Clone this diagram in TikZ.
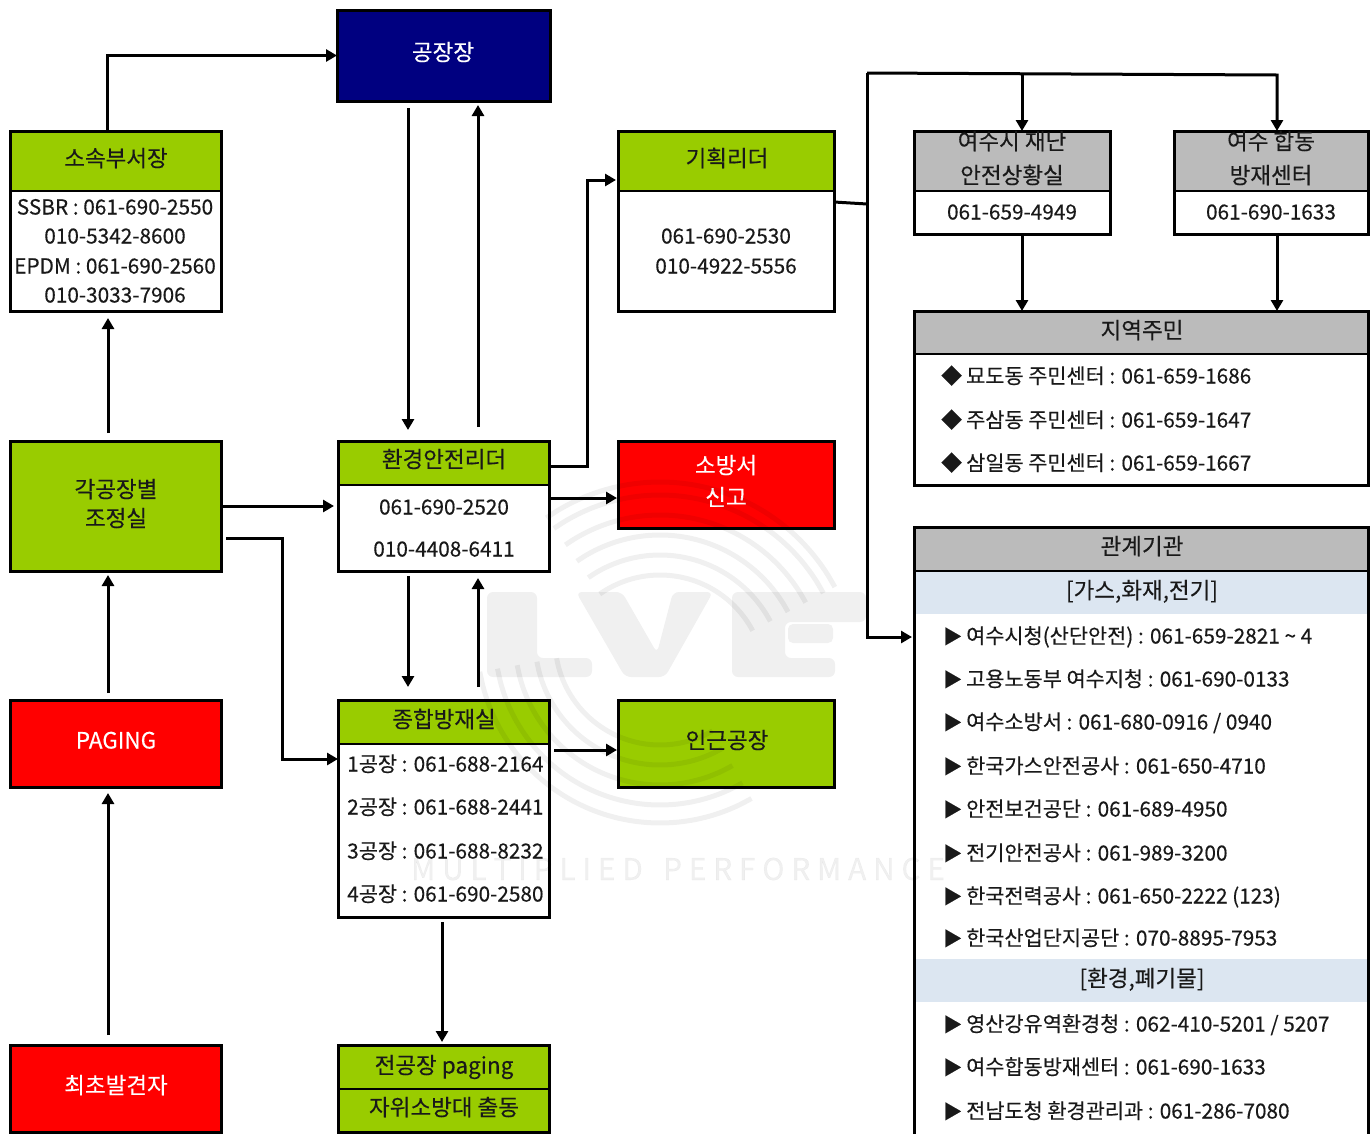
\documentclass[tikz,border=0pt]{standalone}
\usepackage{fontspec}
\setmainfont{Noto Sans CJK KR}[FakeBold=0.25]
\usetikzlibrary{arrows.meta,calc}
\definecolor{grn}{HTML}{99CC00}
\definecolor{gry}{HTML}{BBBBBB}
\definecolor{nvy}{HTML}{000080}
\definecolor{lblue}{HTML}{DCE6F1}
\definecolor{rd}{HTML}{FF0000}
\newcounter{tn}
\newcommand{\K}{\fontsize{22.5}{24}\selectfont}
\tikzset{
  bx/.style={draw=black,line width=3pt,inner sep=0pt,outer sep=0pt,anchor=north west},
  hd/.style={draw=black,line width=1.5pt,inner sep=0pt,outer sep=0pt,anchor=north west},
  band/.style={inner sep=0pt,outer sep=0pt,anchor=north west},
  txt/.style={font=\fontsize{20.8}{23}\selectfont,inner sep=0pt,text height=19pt,text depth=4pt,text=black!90},
  arr/.style={line width=3pt,-{Triangle[length=11pt,width=12pt]}},
  lin/.style={line width=3pt},
  wm/.style={black,opacity=.06},
}
\newcommand{\Bx}[7][bx]{%
  \pgfmathsetmacro{\bw}{#5-#3}\pgfmathsetmacro{\bh}{#6-#4}%
  \node[#1,fill=#7,minimum width=\bw pt,minimum height=\bh pt] (#2) at (#3,#4) {};}
\newcommand{\Tc}[4][black!90]{\stepcounter{tn}\node[txt,text=#1] (t\thetn) at (#2,#3) {#4};}
\newcommand{\Tl}[3]{\stepcounter{tn}\node[txt,anchor=west] (t\thetn) at (#1,#2) {#3};}
\begin{document}
\begin{tikzpicture}[x=1pt,y=-1pt]
\useasboundingbox (0,0) rectangle (1371,1133);
\clip (0,0) rectangle (1371,1133);
\fill[white] (0,0) rectangle (1371,1133);
% boxes
\Bx{gj}{337}{10}{550}{101}{nvy}
\Bx{so}{10}{131}{221}{311}{white}
\Bx[hd]{soh}{10}{131}{221}{191}{grn}
\Bx{gak}{10}{441}{221}{571}{grn}
\Bx{pg}{10}{700}{221}{787}{rd}
\Bx{fst}{10}{1045}{221}{1132}{rd}
\Bx{env}{338}{441}{549}{571}{white}
\Bx[hd]{envh}{338}{441}{549}{485}{grn}
\Bx{zh}{338}{700}{549}{917}{white}
\Bx[hd]{zhh}{338}{700}{549}{744}{grn}
\Bx{all}{338}{1045}{549}{1132}{grn}
\Bx[hd]{allh}{338}{1045}{549}{1089}{grn}
\Bx{plan}{618}{131}{834}{311}{white}
\Bx[hd]{planh}{618}{131}{834}{191}{grn}
\Bx{fire}{618}{441}{834}{528}{rd}
\Bx{near}{618}{700}{834}{787}{grn}
\Bx{ys}{914}{131}{1110}{234}{white}
\Bx[hd]{ysh}{914}{131}{1110}{191}{gry}
\Bx{hdc}{1174}{131}{1368}{234}{white}
\Bx[hd]{hdch}{1174}{131}{1368}{191}{gry}
\Bx{res}{914}{311}{1368}{485}{white}
\Bx[hd]{resh}{914}{311}{1368}{354}{gry}
\Bx{rel}{914}{527}{1368}{1160}{white}
\Bx[band]{relb}{915}{571}{1367}{614}{lblue}
\Bx[band]{relc}{915}{959}{1367}{1002}{lblue}
\Bx[hd]{relh}{914}{527}{1368}{571}{gry}
% redraw outer frames over header bands
\foreach \n in {so,env,zh,all,plan,ys,hdc,res,rel}{\draw[line width=3pt] (\n.north west) rectangle (\n.south east);}
% connectors
\coordinate (eA) at (282,538);
\coordinate (eB) at (587,466);
\coordinate (busMid) at (867,204);
\coordinate (busTop) at (867,73);
\coordinate (busLow) at (867,637);
\coordinate (busBr) at (1022,74);
\coordinate (busCor) at (1277,75);
\draw[arr] ([xshift=-8.5pt]so.north) |- (gj.west);
\draw[arr] ([xshift=-35.5pt,yshift=-7pt]gj.south) -- ([xshift=-35.5pt,yshift=11pt]env.north);
\draw[arr] ([xshift=34.5pt,yshift=14pt]env.north) -- ([xshift=34.5pt,yshift=-4pt]gj.south);
\draw[arr] ([xshift=-7.5pt,yshift=8pt]gak.north) -- ([xshift=-7.5pt,yshift=-7pt]so.south);
\draw[arr] ([xshift=-7.5pt,yshift=7pt]pg.north) -- ([xshift=-7.5pt,yshift=-4pt]gak.south);
\draw[arr] ([xshift=-7.5pt,yshift=10pt]fst.north) -- ([xshift=-7.5pt,yshift=-6pt]pg.south);
\draw[arr] (gak.east) -- ([xshift=-4pt]env.west);
\draw[arr] ([xshift=5pt,yshift=-32pt]gak.east) -- (eA) |- ([yshift=49.5pt]zh.west);
\draw[arr] ([yshift=40pt]env.east) -- (eB) |- ([xshift=-2pt,yshift=41pt]plan.west);
\draw[arr] ([yshift=8pt]env.east) -- ([xshift=-1pt,yshift=-13.5pt]fire.west);
\draw[arr] ([xshift=-35.5pt,yshift=-5pt]env.south) -- ([xshift=-35.5pt,yshift=13pt]zh.north);
\draw[arr] ([xshift=34.5pt,yshift=13pt]zh.north) -- ([xshift=34.5pt,yshift=-7pt]env.south);
\draw[arr] ([xshift=5pt,yshift=58.5pt]zh.east) -- ([xshift=-1pt,yshift=-6.5pt]near.west);
\draw[arr] ([xshift=-1.5pt,yshift=-5pt]zh.south) -- ([xshift=-1.5pt,yshift=3pt]all.north);
\draw[lin] ([yshift=19pt]plan.east) -- (busMid);
\draw[arr] (busTop) -- (busLow) -- ([xshift=-2pt]busLow -| rel.west);
\draw[arr] (busTop) -- (busCor) -- ([xshift=6pt]hdc.north);
\draw[arr] (busBr) -- ([xshift=10pt]ys.north);
\draw[arr] ([xshift=10pt]ys.south) -- ([xshift=10pt]ys.south |- res.north);
\draw[arr] ([xshift=6pt]hdc.south) -- ([xshift=6pt]hdc.south |- res.north);
% texts
\Tc[white]{443}{53}{\K 공장장}
\Tc{116}{159}{\K 소속부서장}
\Tc{115}{207}{SSBR : 061-690-2550}
\Tc{115}{236}{010-5342-8600}
\Tc{115}{266}{EPDM : 061-690-2560}
\Tc{115}{295}{010-3033-7906}
\Tc{116}{490}{\K 각공장별}
\Tc{116}{519}{\K 조정실}
\Tc[white]{116}{741}{\K PAGING}
\Tc[white]{116}{1086}{\K 최초발견자}
\Tc{444}{460}{\K 환경안전리더}
\Tc{444}{507}{061-690-2520}
\Tc{444}{549}{010-4408-6411}
\Tc{444}{720}{\K 종합방재실}
\Tl{347}{764}{1공장 : 061-688-2164}
\Tl{347}{807}{2공장 : 061-688-2441}
\Tl{347}{851}{3공장 : 061-688-8232}
\Tl{347}{894}{4공장 : 061-690-2580}
\Tc{444}{1066}{\K 전공장 paging}
\Tc{444}{1108}{\K 자위소방대 출동}
\Tc{727}{159}{\K 기획리더}
\Tc{726}{236}{061-690-2530}
\Tc{726}{266}{010-4922-5556}
\Tc[white]{726}{466}{\K 소방서}
\Tc[white]{726}{498}{\K 신고}
\Tc{727}{741}{\K 인근공장}
\Tc{1012}{142}{\K 여수시 재난}
\Tc{1012}{176}{\K 안전상황실}
\Tc{1012}{212}{061-659-4949}
\Tc{1271}{142}{\K 여수 합동}
\Tc{1271}{176}{\K 방재센터}
\Tc{1271}{212}{061-690-1633}
\Tc{1142}{331}{\K 지역주민}
\foreach \y/\s in {376/{묘도동 주민센터 : 061-659-1686},420/{주삼동 주민센터 : 061-659-1647},463/{삼일동 주민센터 : 061-659-1667}}{
  \Tl{941}{\y}{◆} \Tl{966}{\y}{\s}}
\Tc{1142}{547}{\K 관계기관}
\Tc{1142}{591}{\K [가스,화재,전기]}
\foreach \y/\s in {636/{여수시청(산단안전) : 061-659-2821 \textasciitilde{} 4},679/{고용노동부 여수지청 : 061-690-0133},722/{여수소방서 : 061-680-0916 / 0940},766/{한국가스안전공사 : 061-650-4710},809/{안전보건공단 : 061-689-4950},853/{전기안전공사 : 061-989-3200},896/{한국전력공사 : 061-650-2222 (123)},938/{한국산업단지공단 : 070-8895-7953},1024/{영산강유역환경청 : 062-410-5201 / 5207},1067/{여수합동방재센터 : 061-690-1633},1111/{전남도청 환경관리과 : 061-286-7080}}{
  \Tl{943}{\y}{\fontsize{19}{21}\selectfont ▶} \Tl{966}{\y}{\s}}
\Tc{1142}{979}{\K [환경,폐기물]}
% watermark
\begin{scope}[wm]
\fill[rounded corners=6pt] (487,592) -- (537,592) -- (537,658) -- (592,658) -- (592,677) -- (487,677) -- cycle;
\fill[rounded corners=6pt] (576,592) -- (622,592) -- (657,653) -- (673,592) -- (713,592) -- (665,677) -- (625,677) -- cycle;
\fill[rounded corners=6pt] (732,592) -- (866,592) -- (866,622) -- (785,622) -- (785,658) -- (835,658) -- (835,677) -- (732,677) -- cycle;
\fill[rounded corners=5pt] (788,624) rectangle (833,643);
\foreach \r in {105,125,145,165,185,198}{
  \draw[line width=5pt] plot[smooth,domain=28:125,samples=24] ({660+\r*cos(\x)},{680-\r*sin(\x)});}
\foreach \r in {105,125,145,165,183}{
  \draw[line width=5pt] plot[smooth,domain=190:300,samples=24] ({660+\r*cos(\x)},{640-\r*sin(\x)});}
\stepcounter{tn}
\node[font=\fontsize{30}{32}\selectfont,text=black,inner sep=0pt] (t\thetn) at (678,869) {M U L T I P L I E D \ \ P E R F O R M A N C E};
\end{scope}
\end{tikzpicture}
\end{document}
